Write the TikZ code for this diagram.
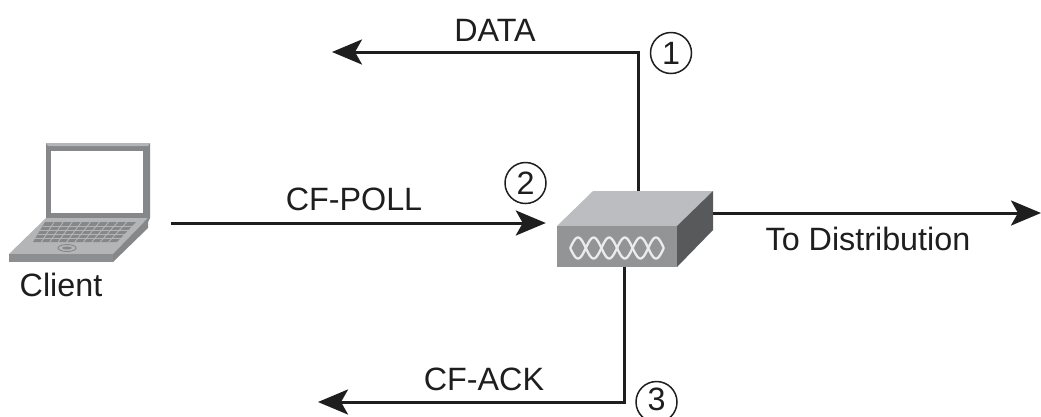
\documentclass[tikz,border=0pt]{standalone}
\usepackage{fontspec}
\setmainfont{Liberation Sans}
\usetikzlibrary{arrows.meta}
\definecolor{lapfront}{HTML}{8C8E90}
\definecolor{laptop}{HTML}{B4B5B7}
\definecolor{lapdark}{HTML}{85878A}
\definecolor{boxtop}{HTML}{BCBDC0}
\definecolor{boxfront}{HTML}{929496}
\definecolor{boxside}{HTML}{58595B}
\definecolor{ink}{HTML}{1E1E1E}
\tikzset{
  flow/.style={line width=3pt,draw=ink,-{Stealth[length=30pt,width=25pt,inset=7pt]}},
  lbl/.style={font=\fontsize{32.3}{32.3}\selectfont,inner sep=0pt,text=ink},
  numcircle/.style={circle,draw=ink,line width=1.5pt,minimum size=41pt,inner sep=0pt,font=\fontsize{32.3}{32.3}\selectfont,text=ink},
  ringwave/.style={white!92!black,line width=2.3pt,line join=round,smooth,samples=97,domain=570.2:663.8},
}
\begin{document}
\begin{tikzpicture}[x=1pt,y=-1pt]
\useasboundingbox[fill=white] (0,0) rectangle (1041,416);
% laptop
\fill[lapdark] (46,143) -- (150,143) -- (150,218) -- (148,222) -- (46,222) -- cycle;
\fill[laptop] (46,143) -- (150,143) -- (148,146) -- (48,146) -- cycle;
\fill[white] (51,151) rectangle (143,213);
\fill[laptop] (46,218) -- (148,218) -- (113,254) -- (9,254) -- cycle;
\fill[lapfront] (9,254) -- (113,254) -- (113,262) -- (9,262) -- cycle;
\fill[lapdark] (113,254) -- (148,218) -- (148,228) -- (113,262) -- cycle;
\fill[lapdark] (45,222) -- (136,222) -- (117,242) -- (33,242) -- cycle;
\foreach \r in {0.2,0.4,0.6,0.8}
  \draw[laptop,line width=0.9pt] ({45-12*\r},{222+20*\r}) -- ({136-19*\r},{222+20*\r});
\foreach \t in {0.1,0.2,...,0.9}
  \draw[laptop,line width=0.9pt] ({45+91*\t},222) -- ({33+84*\t},242);
\draw[lapdark,line width=0.9pt] (67,248) ellipse (9pt and 3.5pt);
\fill[lapdark] (67,248) ellipse (5pt and 1.5pt);
% access point
\fill[boxtop] (557,226) -- (593,191) -- (713,191) -- (677,226) -- cycle;
\fill[boxfront] (557,226) rectangle (677,267);
\fill[boxside] (677,226) -- (713,191) -- (713,230) -- (677,267) -- cycle;
\draw[ringwave] plot (\x,{248+10.5*cos(180*(\x-578)/15.6)});
\draw[ringwave] plot (\x,{248-10.5*cos(180*(\x-578)/15.6)});
% anchors: client spans the laptop, its label and the gap up to the POLL line
\node[minimum width=162pt,minimum height=160pt,inner sep=0pt] (client) at (90,223) {};
\node[minimum width=156pt,minimum height=76pt,inner sep=0pt] (ap) at (635,229) {};
\coordinate (dataCorner) at (638,52);
\coordinate (dataEnd) at (332,52);
\coordinate (distEnd) at (1041,213);
\coordinate (ackCorner) at (624,402);
\coordinate (ackEnd) at (318,402);
% connectors
\draw[flow] (ap.north -| dataCorner) -- (dataCorner) -- (dataEnd);
\draw[flow,shorten >=11pt] (client.east) -- (client.east -| ap.west);
\draw[flow] (ap.east |- distEnd) -- (distEnd);
\draw[flow] (ap.south -| ackCorner) -- (ackCorner) -- (ackEnd);
% labels
\node[lbl] (data) at (495,30) {DATA};
\node[lbl] (poll) at (354,199) {CF-POLL};
\node[lbl] (ack) at (484,379) {CF-ACK};
\node[lbl] (dist) at (868,239) {To Distribution};
\node[lbl] (clientlabel) at (61,285) {Client};
\node[numcircle] (n1) at (671,53) {1};
\node[numcircle] (n2) at (525.5,183) {2};
\node[numcircle] (n3) at (656.5,402) {};
\node[lbl] (n3text) at (656.5,399.5) {3};
\end{tikzpicture}
\end{document}
